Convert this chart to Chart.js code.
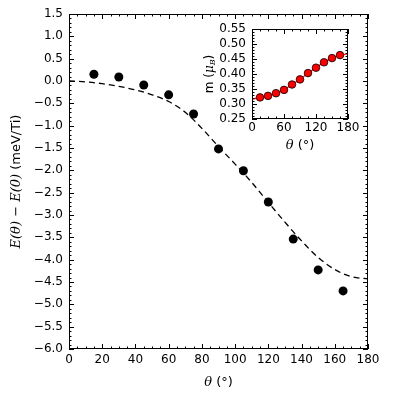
<!DOCTYPE html>
<html>
<head>
<meta charset="utf-8">
<script src="https://cdn.jsdelivr.net/npm/chart.js@4/dist/chart.umd.min.js"></script>
<style>
  html, body { margin: 0; padding: 0; background: #fff; }
  #contenedor { position: relative; width: 399px; height: 399px; }
  #principal { position: absolute; left: 0; top: 0; }
  #recuadro { position: absolute; left: 190px; top: 10px; }
</style>
</head>
<body>
<div id="contenedor">
  <canvas id="principal" width="399" height="399"></canvas>
  <canvas id="recuadro" width="180" height="150"></canvas>
</div>
<script>
// Datos
const angulos = [15, 30, 45, 60, 75, 90, 105, 120, 135, 150, 165];
const energias = [0.15, 0.09, -0.09, -0.31, -0.74, -1.52, -2.01, -2.71, -3.54, -4.23, -4.70];

// Curva discontinua (ajuste)
const angulosAjuste = [0, 10, 20, 30, 40, 50, 60, 70, 80, 90, 100, 110, 120, 130, 140, 150, 160, 170, 180];
const energiasAjuste = [0.00, -0.02, -0.06, -0.12, -0.20, -0.31, -0.46, -0.70, -1.06, -1.47, -1.86, -2.27, -2.72, -3.16, -3.58, -3.95, -4.22, -4.38, -4.43];

// Recuadro: momento magnético
const angulosMomento = [15, 30, 45, 60, 75, 90, 105, 120, 135, 150, 165];
const momentos = [0.322, 0.327, 0.336, 0.347, 0.365, 0.382, 0.403, 0.421, 0.439, 0.453, 0.463];
const angulosLineaMomento = [0, 15, 30, 45, 60, 75, 90, 105, 120, 135, 150, 165, 180];
const lineaMomento = [0.316, 0.322, 0.327, 0.336, 0.347, 0.365, 0.382, 0.403, 0.421, 0.439, 0.453, 0.463, 0.467];

// Marcas de los ejes
const marcasX = [0, 20, 40, 60, 80, 100, 120, 140, 160, 180];
const marcasY = [-6, -5.5, -5, -4.5, -4, -3.5, -3, -2.5, -2, -1.5, -1, -0.5, 0, 0.5, 1, 1.5];
const etiquetasY = ['\u22126.0', '\u22125.5', '\u22125.0', '\u22124.5', '\u22124.0', '\u22123.5', '\u22123.0', '\u22122.5',
    '\u22122.0', '\u22121.5', '\u22121.0', '\u22120.5', '0.0', '0.5', '1.0', '1.5'];
const marcasXRecuadro = [0, 60, 120, 180];
const marcasYRecuadro = [0.25, 0.30, 0.35, 0.40, 0.45, 0.50, 0.55];
const etiquetasYRecuadro = ['0.25', '0.30', '0.35', '0.40', '0.45', '0.50', '0.55'];

const fuenteSans = 'DejaVu Sans';
const fuenteSerif = 'DejaVu Serif';

function puntos(xs, ys) {
    return xs.map((x, i) => ({ x: x, y: ys[i] }));
}

// Texto con varias fuentes (para las etiquetas con matemáticas)
function textoRico(ctx, partes, x, y, angulo) {
    ctx.save();
    ctx.translate(x, y);
    ctx.rotate(angulo);
    let total = 0;
    partes.forEach(p => { ctx.font = p.font; total += ctx.measureText(p.t).width; });
    let cx = -total / 2;
    ctx.textBaseline = 'middle';
    ctx.textAlign = 'left';
    ctx.fillStyle = '#000';
    partes.forEach(p => {
        ctx.font = p.font;
        ctx.fillText(p.t, cx, p.dy || 0);
        cx += ctx.measureText(p.t).width;
    });
    ctx.restore();
}

// Marco y marcas hacia adentro en los cuatro lados (estilo matplotlib clásico)
const marcasAdentro = {
    id: 'marcasAdentro',
    beforeDatasetsDraw(chart) {
        const a = chart.chartArea;
        const ctx = chart.ctx;
        ctx.save();
        ctx.fillStyle = '#fff';
        ctx.fillRect(a.left, a.top, a.right - a.left, a.bottom - a.top);
        ctx.restore();
    },
    afterDraw(chart, args, opts) {
        const { ctx, chartArea: a, scales: { x, y } } = chart;
        ctx.save();
        ctx.strokeStyle = '#000';
        ctx.lineWidth = 1;
        ctx.strokeRect(a.left + 0.5, a.top + 0.5, a.right - a.left - 1, a.bottom - a.top - 1);

        const nx = Math.round((x.max - x.min) / opts.xMenor);
        for (let i = 0; i <= nx; i++) {
            const v = x.min + i * opts.xMenor;
            const r = v / opts.xMayor;
            const largo = Math.abs(r - Math.round(r)) < 1e-6 ? 5 : 2.5;
            const px = Math.round(x.getPixelForValue(v)) + 0.5;
            ctx.beginPath();
            ctx.moveTo(px, a.bottom); ctx.lineTo(px, a.bottom - largo);
            ctx.moveTo(px, a.top); ctx.lineTo(px, a.top + largo);
            ctx.stroke();
        }
        const ny = Math.round((y.max - y.min) / opts.yMenor);
        for (let i = 0; i <= ny; i++) {
            const v = y.min + i * opts.yMenor;
            const r = (v - y.min) / opts.yMayor;
            const largo = Math.abs(r - Math.round(r)) < 1e-6 ? 5 : 2.5;
            const py = Math.round(y.getPixelForValue(v)) + 0.5;
            ctx.beginPath();
            ctx.moveTo(a.left, py); ctx.lineTo(a.left + largo, py);
            ctx.moveTo(a.right, py); ctx.lineTo(a.right - largo, py);
            ctx.stroke();
        }
        ctx.restore();

        if (opts.tituloX) textoRico(ctx, opts.tituloX, (a.left + a.right) / 2, a.bottom + opts.distX, 0);
        if (opts.tituloY) textoRico(ctx, opts.tituloY, a.left - opts.distY, (a.top + a.bottom) / 2, -Math.PI / 2);
    }
};

const tituloTheta = [
    { t: '\u03b8', font: `italic 13px ${fuenteSerif}` },
    { t: ' (\u00b0)', font: `13px ${fuenteSans}` }
];

function ejeX(valores, relleno, alto) {
    return {
        type: 'linear', min: valores[0], max: valores[valores.length - 1],
        grid: { display: false, drawTicks: false },
        border: { display: false },
        afterBuildTicks: (scale) => { scale.ticks = valores.map(v => ({ value: v })); },
        ticks: { autoSkip: false, padding: relleno, color: '#000', font: { family: fuenteSans, size: 12 }, maxRotation: 0, callback: v => String(v) },
        afterFit: (scale) => { scale.height = alto; }
    };
}

function ejeY(valores, etiquetas, ancho) {
    return {
        min: valores[0], max: valores[valores.length - 1],
        grid: { display: false, drawTicks: false },
        border: { display: false },
        afterBuildTicks: (scale) => { scale.ticks = valores.map(v => ({ value: v })); },
        ticks: { autoSkip: false, padding: 6, color: '#000', font: { family: fuenteSans, size: 12 }, callback: (v, i) => etiquetas[i] },
        afterFit: (scale) => { scale.width = ancho; }
    };
}

// Gráfico principal
new Chart(document.getElementById('principal'), {
    type: 'scatter',
    data: {
        datasets: [
            {
                data: puntos(angulos, energias),
                pointRadius: 4.5,
                pointBackgroundColor: '#000',
                pointBorderColor: '#000',
                pointBorderWidth: 0,
                showLine: false
            },
            {
                data: puntos(angulosAjuste, energiasAjuste),
                showLine: true,
                pointRadius: 0,
                borderColor: '#000',
                borderWidth: 1.3,
                borderDash: [6, 4],
                cubicInterpolationMode: 'monotone'
            }
        ]
    },
    options: {
        responsive: false,
        animation: false,
        layout: { padding: { top: 14, right: 31, left: 0, bottom: 0 } },
        plugins: {
            legend: { display: false },
            tooltip: { enabled: false },
            marcasAdentro: {
                xMayor: 20, xMenor: 5, yMayor: 0.5, yMenor: 0.1,
                tituloX: tituloTheta, distX: 34,
                tituloY: [
                    { t: 'E(\u03b8) \u2212 E(0)', font: `italic 13px ${fuenteSerif}` },
                    { t: ' (meV/Ti)', font: `13px ${fuenteSans}` }
                ],
                distY: 52
            }
        },
        scales: {
            x: ejeX(marcasX, 4, 50),
            y: ejeY(marcasY, etiquetasY, 69)
        }
    },
    plugins: [marcasAdentro]
});

// Recuadro
new Chart(document.getElementById('recuadro'), {
    type: 'scatter',
    data: {
        datasets: [
            {
                data: puntos(angulosMomento, momentos),
                pointRadius: 3.8,
                pointBackgroundColor: '#ff0000',
                pointBorderColor: '#000',
                pointBorderWidth: 0.8,
                showLine: false
            },
            {
                data: puntos(angulosLineaMomento, lineaMomento),
                showLine: true,
                pointRadius: 0,
                borderColor: '#ff0000',
                borderWidth: 1.2,
                cubicInterpolationMode: 'monotone'
            }
        ]
    },
    options: {
        responsive: false,
        animation: false,
        layout: { padding: { top: 19, right: 22, left: 0, bottom: 0 } },
        plugins: {
            legend: { display: false },
            tooltip: { enabled: false },
            marcasAdentro: {
                xMayor: 60, xMenor: 15, yMayor: 0.05, yMenor: 0.01,
                tituloX: tituloTheta, distX: 27,
                tituloY: [
                    { t: 'm (', font: `12px ${fuenteSans}` },
                    { t: '\u03bc', font: `italic 12px ${fuenteSerif}` },
                    { t: 'B', font: `italic 8px ${fuenteSerif}`, dy: 3 },
                    { t: ')', font: `12px ${fuenteSans}` }
                ],
                distY: 42
            }
        },
        scales: {
            x: ejeX(marcasXRecuadro, 2, 41),
            y: ejeY(marcasYRecuadro, etiquetasYRecuadro, 62)
        }
    },
    plugins: [marcasAdentro]
});
</script>
</body>
</html>
